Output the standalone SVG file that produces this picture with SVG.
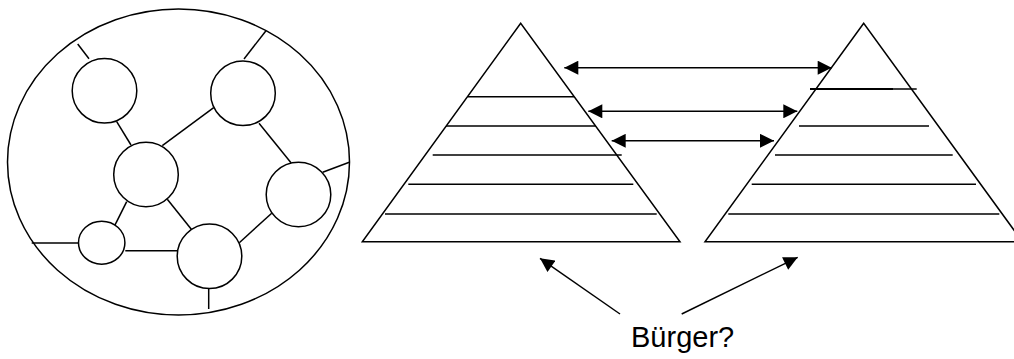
<svg xmlns="http://www.w3.org/2000/svg" width="1014" height="359" viewBox="0 0 1014 359">
<style>
.s{fill:none;stroke:#000;stroke-width:1.5}
.n{fill:#fff;stroke:#000;stroke-width:1.5}
.a{fill:none;stroke:#000;stroke-width:1.5}
.t{font-family:"Liberation Sans",Arial,sans-serif;font-size:29px;fill:#000}
</style>
<defs>
<marker id="ah" viewBox="0 0 10 10" refX="10" refY="5" markerWidth="10" markerHeight="9.5" markerUnits="userSpaceOnUse" orient="auto-start-reverse">
<path d="M0,0 L10,5 L0,10 z" fill="#000"/>
</marker>
<marker id="ah2" viewBox="0 0 10 10" refX="10" refY="5" markerWidth="15" markerHeight="14" markerUnits="userSpaceOnUse" orient="auto-start-reverse">
<path d="M0,0 L10,5 L0,10 z" fill="#000"/>
</marker>
</defs>
<rect width="1014" height="359" fill="#fff"/>
<g id="network">
<ellipse class="s" cx="178.5" cy="162" rx="171" ry="153"/>
<g id="edges">
<line class="s" x1="77.7" y1="44" x2="89" y2="58.7"/>
<line class="s" x1="266" y1="30.7" x2="244" y2="59"/>
<line class="s" x1="116.7" y1="121.7" x2="131" y2="145"/>
<line class="s" x1="213.7" y1="107.7" x2="162.3" y2="145.7"/>
<line class="s" x1="259" y1="123.3" x2="291" y2="162.7"/>
<line class="s" x1="322.7" y1="172.3" x2="349.3" y2="162.3"/>
<line class="s" x1="126.7" y1="201.7" x2="113.3" y2="228.3"/>
<line class="s" x1="167.3" y1="199.3" x2="191.3" y2="229.3"/>
<line class="s" x1="271.7" y1="213.3" x2="239.3" y2="242.7"/>
<line class="s" x1="125.3" y1="250.7" x2="177" y2="250.7"/>
<line class="s" x1="31.7" y1="243" x2="78.3" y2="243"/>
<line class="s" x1="208.7" y1="289" x2="208.7" y2="309"/>
</g>
<circle id="n1" class="n" cx="104.5" cy="90.8" r="32.3"/>
<circle id="n2" class="n" cx="243" cy="93.3" r="32.3"/>
<circle id="n3" class="n" cx="146" cy="174.5" r="32.3"/>
<circle id="n4" class="n" cx="298.5" cy="194.5" r="32.3"/>
<ellipse id="n5" class="n" cx="101.7" cy="242.7" rx="23.2" ry="21.5"/>
<circle id="n6" class="n" cx="209.5" cy="256.3" r="32.3"/>
</g>
<g id="pyramid-left">
<polygon class="s" points="520.7,23.3 362.3,241.7 680,241.7"/>
<line class="s" x1="467.7" y1="96.7" x2="574" y2="96.7"/>
<line class="s" x1="446" y1="126" x2="595.7" y2="126"/>
<line class="s" x1="432.7" y1="155" x2="621.7" y2="155"/>
<line class="s" x1="408.3" y1="184.3" x2="633.3" y2="184.3"/>
<line class="s" x1="385" y1="214" x2="656.7" y2="214"/>
</g>
<g id="pyramid-right">
<polygon class="s" points="863.7,23.3 705,241.7 1022.4,241.7"/>
<line class="s" x1="810" y1="89" x2="916.7" y2="89"/>
<line x1="810" y1="89" x2="893" y2="89" stroke="#000" stroke-width="2.2"/>
<line class="s" x1="799" y1="126" x2="929" y2="126"/>
<line class="s" x1="775" y1="155" x2="952.7" y2="155"/>
<line class="s" x1="751.7" y1="184.3" x2="976" y2="184.3"/>
<line class="s" x1="728.3" y1="214" x2="999.3" y2="214"/>
</g>
<g id="connectors">
<line class="a" x1="564.3" y1="67.7" x2="831.7" y2="67.7" marker-start="url(#ah2)" marker-end="url(#ah2)"/>
<line class="a" x1="588.3" y1="111.3" x2="797.3" y2="111.3" marker-start="url(#ah2)" marker-end="url(#ah2)"/>
<line class="a" x1="611.7" y1="140.8" x2="774" y2="140.8" marker-start="url(#ah2)" marker-end="url(#ah2)"/>
<line class="a" x1="620" y1="314" x2="540" y2="258.3" marker-end="url(#ah2)"/>
<line class="a" x1="681.7" y1="314" x2="797.7" y2="257.3" marker-end="url(#ah2)"/>
</g>
<g id="label">
<text class="t" x="631" y="347">Bürger?</text>
</g>
</svg>
